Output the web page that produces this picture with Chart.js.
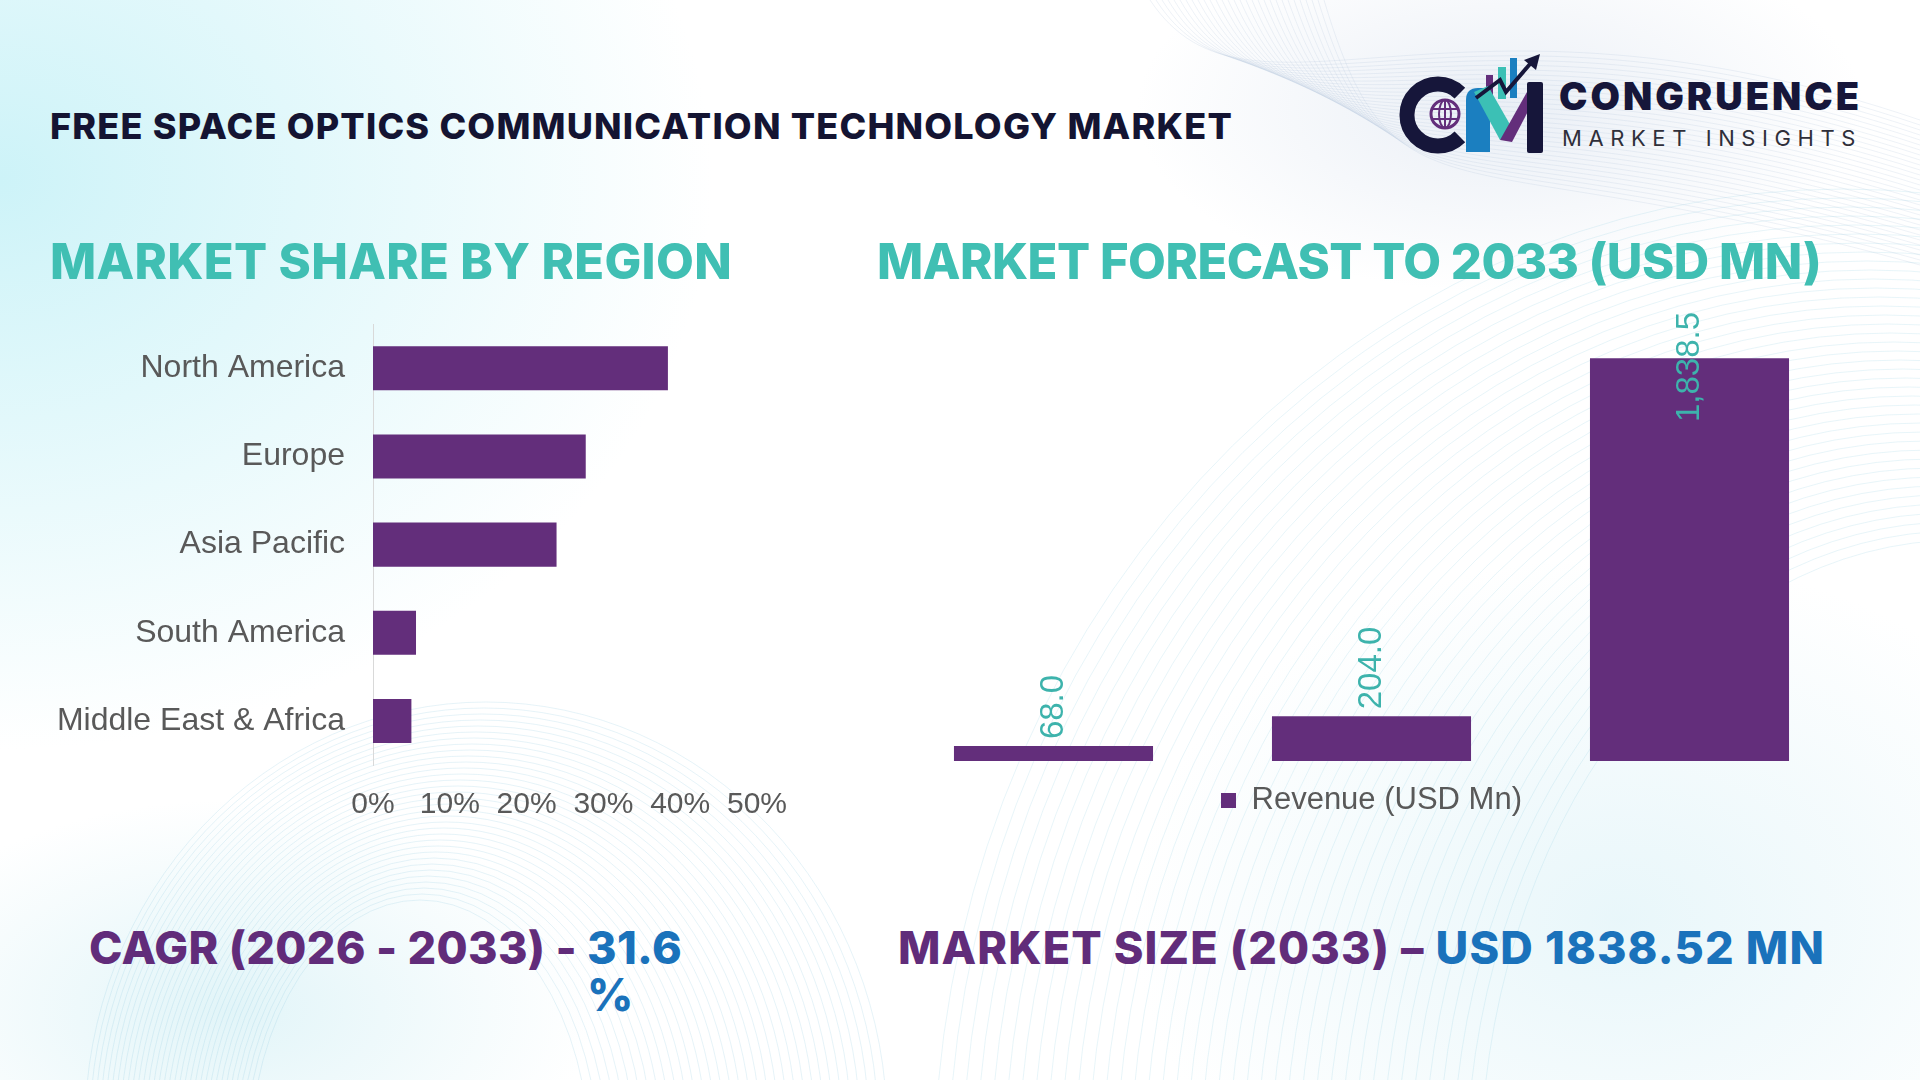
<!DOCTYPE html>
<html>
<head>
<meta charset="utf-8">
<script src="https://cdn.jsdelivr.net/npm/chart.js@4.4.1/dist/chart.umd.min.js"></script>
<style>
  html, body { margin: 0; padding: 0; }
  body {
    width: 1920px; height: 1080px; position: relative; overflow: hidden;
    background:
      radial-gradient(ellipse 520px 300px at 230px 1010px, rgba(190,232,240,0.45), rgba(255,255,255,0) 70%),
      radial-gradient(ellipse 700px 520px at 1620px 920px, rgba(205,236,244,0.45), rgba(255,255,255,0) 70%),
      radial-gradient(ellipse 520px 260px at 1500px 110px, rgba(225,232,242,0.7), rgba(255,255,255,0) 70%),
      radial-gradient(ellipse 950px 760px at 0px 180px, rgba(205,243,248,1), rgba(255,255,255,0) 75%),
      #ffffff;
    font-family: Inter, "Liberation Sans", sans-serif;
  }
  .txt { position: absolute; white-space: nowrap; font-weight: 800; line-height: 1; }
  canvas { position: absolute; }
  #waves { position: absolute; left: 0; top: 0; }
</style>
</head>
<body>

<svg id="waves" width="1920" height="1080"></svg>

<div class="txt" id="title" style="left:50px; top:108px; font-size:36px; color:#141432;">FREE SPACE OPTICS COMMUNICATION TECHNOLOGY MARKET</div>

<svg style="position:absolute; left:1395px; top:50px;" width="170" height="110" viewBox="1395 50 170 110">
  <path d="M1459.9 93.1 A31 31 0 1 0 1459.9 136.9" fill="none" stroke="#16163a" stroke-width="15"/>
  <circle cx="1445" cy="114" r="14" fill="none" stroke="#632E7B" stroke-width="3"/>
  <ellipse cx="1445" cy="114" rx="6" ry="14" fill="none" stroke="#632E7B" stroke-width="2"/>
  <line x1="1431" y1="109" x2="1459" y2="109" stroke="#632E7B" stroke-width="2"/>
  <line x1="1431" y1="119" x2="1459" y2="119" stroke="#632E7B" stroke-width="2"/>
  <line x1="1445" y1="100" x2="1445" y2="128" stroke="#632E7B" stroke-width="2"/>
  <rect x="1486" y="75" width="7" height="22" fill="#632E7B"/>
  <rect x="1498" y="67" width="8" height="32" fill="#3CC0B5"/>
  <rect x="1510" y="58" width="7" height="40" fill="#1B7FC0"/>
  <path d="M1466 152 L1466 100 Q1466 88 1478 88 L1490 88 L1490 152 Z" fill="#1B7FC0"/>
  <path d="M1474 92 L1488 86 L1512 128 L1500 140 Z" fill="#3CC0B5"/>
  <path d="M1500 140 L1527 92 L1534 100 L1512 142 Z" fill="#632E7B"/>
  <rect x="1527" y="82" width="16" height="71" rx="2" fill="#16163a"/>
  <path d="M1476 98 L1500 80 L1506 92 L1530 64" fill="none" stroke="#16163a" stroke-width="4"/>
  <path d="M1540 54 L1524 60 L1536 70 Z" fill="#16163a"/>
</svg>
<div class="txt" id="logo1" style="left:1559px; top:77px; font-size:38px; font-weight:900; color:#16163a;">CONGRUENCE</div>
<div class="txt" id="logo2" style="left:1562px; top:127px; font-size:22px; font-weight:400; color:#2f2f3a;">MARKET INSIGHTS</div>

<div class="txt" id="h1" style="left:50px; top:237px; font-size:49px; color:#40BFB3;">MARKET SHARE BY REGION</div>
<div class="txt" id="h2" style="left:877px; top:237px; font-size:49px; color:#40BFB3;">MARKET FORECAST TO 2033 (USD MN)</div>

<canvas id="shareChart" width="820" height="555" style="left:0px; top:285px;"></canvas>
<canvas id="forecastChart" width="1003" height="536" style="left:870px; top:290px;"></canvas>

<div class="txt" id="cagr" style="left:89px; top:924px; font-size:45px; line-height:47px; color:#612C7A;"><span id="cagrA">CAGR (2026 - 2033) - </span><span style="display:inline-block; vertical-align:top; color:#1A72BB;">31.6<br>%</span></div>
<div class="txt" id="msize" style="left:898px; top:924px; font-size:45px; line-height:47px; color:#612C7A;">MARKET SIZE (2033) – <span style="color:#1A72BB;">USD 1838.52 MN</span></div>

<script>
// market share by region (%)
const regions = ['North America', 'Europe', 'Asia Pacific', 'South America', 'Middle East & Africa'];
const shares = [38.4, 27.7, 23.9, 5.6, 5.0];
const shareTicks = [0, 10, 20, 30, 40, 50];

// market forecast (USD Mn)
const years = ['2021', '2025', '2033'];
const revenue = [68.0, 204.0, 1838.5];
const revenueLabel = 'Revenue (USD Mn)';

const purple = '#632E7B';
const grey = '#595959';
const labelFont = '"Liberation Sans", Arial, sans-serif';

// faint decorative line texture behind everything
(function () {
  const svg = document.getElementById('waves');
  let html = '';
  for (let i = 0; i < 34; i++) {
    const rx = 170 + i * 7, ry = 260 + i * 5;
    html += `<ellipse cx="${420 + i * 2}" cy="${1160 - i}" rx="${rx}" ry="${ry}" fill="none" stroke="rgba(140,200,222,0.22)" stroke-width="1"/>`;
  }
  for (let i = 0; i < 40; i++) {
    const rx = 480 + i * 11, ry = 640 + i * 9;
    html += `<ellipse cx="${1960 - i * 3}" cy="${1180}" rx="${rx}" ry="${ry}" fill="none" stroke="rgba(140,205,225,0.2)" stroke-width="1"/>`;
  }
  for (let i = 0; i < 30; i++) {
    html += `<path d="M${1150 + i * 6} 0 C ${1250 + i * 5} ${150 + i * 3}, ${1450} ${-40 + i * 6}, 1920 ${120 + i * 5}" fill="none" stroke="rgba(170,190,215,0.2)" stroke-width="1"/>`;
  }
  svg.innerHTML = html;
})();

// stretch headline text to the width it has in the picture
function fitWidth(id, target) {
  const el = document.getElementById(id);
  const w = el.getBoundingClientRect().width;
  const n = el.textContent.length;
  el.style.letterSpacing = ((target - w) / n) + 'px';
}
fitWidth('title', 1183);
fitWidth('logo1', 303);
fitWidth('logo2', 300);
fitWidth('h1', 682);
fitWidth('h2', 943);
fitWidth('msize', 927);
(function () {
  const el = document.getElementById('cagr');
  const first = 'CAGR (2026 - 2033) - 31.6'.length;
  const s = document.createElement('span');
  s.className = 'txt';
  s.style.fontSize = '45px';
  s.textContent = '31.6';
  document.body.appendChild(s);
  const w = document.getElementById('cagrA').getBoundingClientRect().width + s.getBoundingClientRect().width;
  s.remove();
  el.style.letterSpacing = ((593 - w) / first) + 'px';
})();

new Chart(document.getElementById('shareChart'), {
  type: 'bar',
  data: {
    labels: regions,
    datasets: [{
      data: shares,
      backgroundColor: purple,
      barPercentage: 0.5,
      categoryPercentage: 1.0
    }]
  },
  options: {
    indexAxis: 'y',
    responsive: false,
    animation: false,
    devicePixelRatio: 1,
    layout: { padding: { top: 22, right: 63, left: 0, bottom: 0 } },
    plugins: { legend: { display: false }, tooltip: { enabled: false } },
    scales: {
      x: {
        min: shareTicks[0],
        max: shareTicks[shareTicks.length - 1],
        afterBuildTicks: s => { s.ticks = shareTicks.map(v => ({ value: v })); },
        grid: { display: false },
        border: { display: false },
        ticks: {
          padding: 14,
          color: grey,
          font: { family: labelFont, size: 30 },
          callback: v => v + '%'
        },
        afterFit: s => { s.height = 75; }
      },
      y: {
        grid: { display: false },
        border: { display: true, color: '#d9d9d9', width: 1 },
        ticks: {
          padding: 20,
          color: grey,
          font: { family: labelFont, size: 32 }
        },
        afterFit: s => { s.width = 373; }
      }
    }
  }
});

const fmt = v => v.toLocaleString('en-US', { minimumFractionDigits: 1, maximumFractionDigits: 1 });

const barLabels = {
  id: 'barLabels',
  afterDatasetsDraw(chart) {
    const ctx = chart.ctx;
    const meta = chart.getDatasetMeta(0);
    ctx.save();
    ctx.font = '33px ' + labelFont;
    ctx.fillStyle = '#3DB3AC';
    ctx.textAlign = 'left';
    ctx.textBaseline = 'middle';
    meta.data.forEach((bar, i) => {
      const txt = fmt(revenue[i]);
      const w = ctx.measureText(txt).width;
      let start = bar.y - 7;
      if (start - w < chart.chartArea.top) start = chart.chartArea.top + w;
      ctx.save();
      ctx.translate(bar.x, start);
      ctx.rotate(-Math.PI / 2);
      ctx.fillText(txt, 0, 0);
      ctx.restore();
    });
    ctx.restore();
  }
};

new Chart(document.getElementById('forecastChart'), {
  type: 'bar',
  data: {
    labels: years,
    datasets: [{
      label: revenueLabel,
      data: revenue,
      backgroundColor: purple,
      barPercentage: 0.626,
      categoryPercentage: 1.0
    }]
  },
  options: {
    responsive: false,
    animation: false,
    devicePixelRatio: 1,
    layout: { padding: { top: 22, right: 24.5, left: 24.5, bottom: 0 } },
    plugins: {
      tooltip: { enabled: false },
      legend: {
        position: 'bottom',
        labels: {
          boxWidth: 15,
          boxHeight: 15,
          padding: 24,
          color: grey,
          font: { family: labelFont, size: 31 }
        }
      }
    },
    scales: {
      x: { display: false },
      y: { display: false, min: 0, max: 2050 }
    }
  },
  plugins: [barLabels]
});
</script>
</body>
</html>
